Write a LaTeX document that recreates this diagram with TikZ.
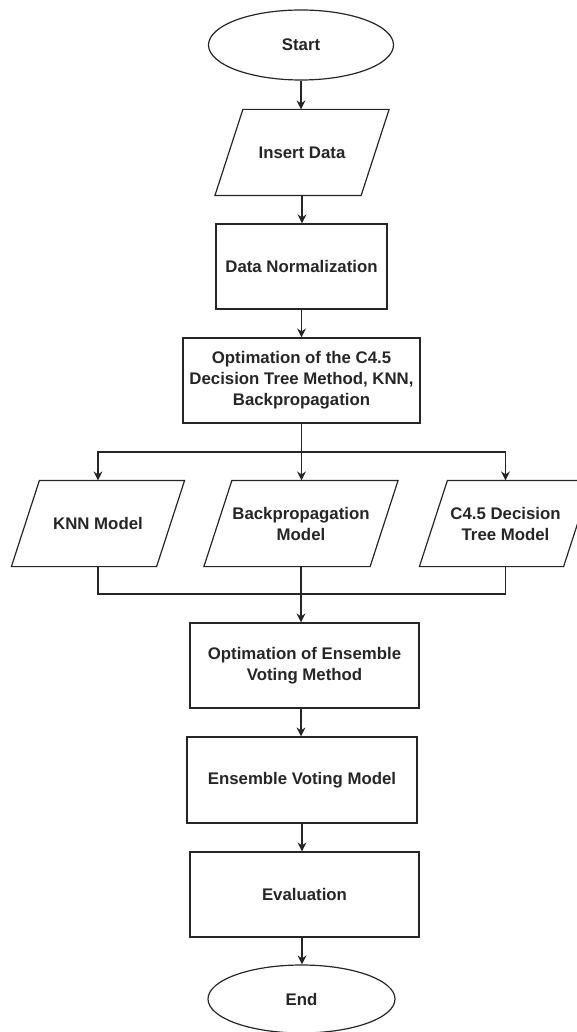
\documentclass[tikz,border=0pt]{standalone}
\usepackage{fontspec}
\setmainfont{Liberation Sans}
\usetikzlibrary{arrows.meta, positioning, shapes.geometric}

\begin{document}
\begin{tikzpicture}[x=1pt, y=-1pt,
    base/.style={line width=1.2pt, align=center, text=black!85,
        font=\fontsize{16.8}{21}\selectfont\bfseries, inner sep=2pt},
    terminal/.style={base, draw=black!85, ellipse, minimum width=185pt, minimum height=70pt},
    process/.style={base, draw=black!85, rectangle, minimum height=85pt},
    io/.style={base, rectangle, minimum height=85pt},
    flow/.style={draw=black!85, line width=1.2pt, -{Stealth[length=9pt, width=9pt]}},
    link/.style={draw=black!85, line width=1.2pt}]
    \useasboundingbox (0,0) rectangle (577,1032);

    % Start and data
    \node[terminal] (start) at (301,45) {Start};
    \node[io, minimum width=145pt] (insert) at (302,152.5) {Insert Data};
    \node[process, minimum width=171pt] (norm) at (301.5,266.5) {Data Normalization};
    \node[process, minimum width=237pt] (optA) at (301.5,380.5)
        {Optimation of the C4.5\\Decision Tree Method, KNN,\\Backpropagation};

    % The three models
    \node[io, minimum width=144pt] (knn) at (98,523.5) {KNN Model};
    \node[io, minimum width=165pt] (bp) at (301,523.5) {Backpropagation\\Model};
    \node[io, minimum width=143pt] (c45) at (505.5,523.5) {C4.5 Decision\\Tree Model};

    % Ensemble and end
    \node[process, minimum width=229pt] (optB) at (304.5,665.5)
        {Optimation of Ensemble\\Voting Method};
    \node[process, minimum width=230pt, minimum height=86pt] (ens) at (302,780)
        {Ensemble Voting Model};
    \node[process, minimum width=229pt] (eval) at (304.5,894.5) {Evaluation};
    \node[terminal, minimum width=187pt, minimum height=68pt] (end) at (301.5,999) {End};

    % Parallelogram outlines
    \foreach \n in {insert, knn, bp, c45}
        \draw[link, line join=miter] ([xshift=14pt]\n.north west) -- ([xshift=14pt]\n.north east)
            -- ([xshift=-14pt]\n.south east) -- ([xshift=-14pt]\n.south west) -- cycle;

    % Arrows
    \draw[flow] (start.south) -- (start.south |- insert.north);
    \draw[flow] (insert.south) -- (insert.south |- norm.north);
    \draw[flow] (norm.south) -- (norm.south |- optA.north);

    \coordinate (split) at (301.5,452);
    \draw[link] (optA.south) -- (split);
    \draw[flow] (split) -| (knn.north);
    \draw[flow] (split) -- (split |- bp.north);
    \draw[flow] (split) -| (c45.north);

    \coordinate (join) at (301.5,594);
    \draw[link] (knn.south) |- (join) -| (c45.south);
    \draw[flow] (bp.south) -- (bp.south |- optB.north);

    \draw[flow] (optB.south -| bp.south) -- (bp.south |- ens.north);
    \draw[flow] (ens.south) -- (ens.south |- eval.north);
    \draw[flow] (eval.south -| ens.south) -- (ens.south |- end.north);
\end{tikzpicture}
\end{document}
